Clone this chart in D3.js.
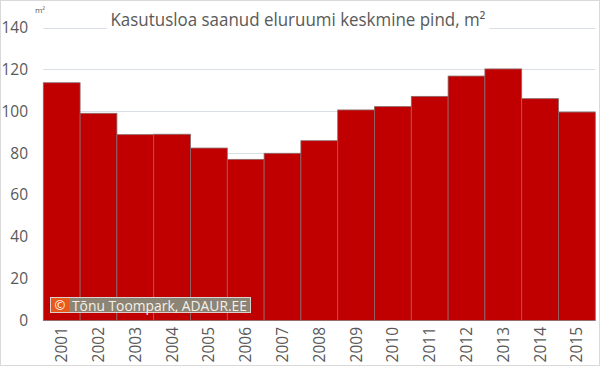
<!DOCTYPE html>
<html><head><meta charset="utf-8">
<script src="https://cdn.jsdelivr.net/npm/d3@7"></script>
<style>body{margin:0;background:#fff}svg{display:block}</style>
</head><body>
<script>
const years = ["2001","2002","2003","2004","2005","2006","2007","2008","2009","2010","2011","2012","2013","2014","2015"];
const values = [113.6,99.0,88.8,89.0,82.4,77.0,79.9,85.9,100.6,102.2,107.1,116.8,120.2,106.0,99.6];
const yTicks = [0,20,40,60,80,100,120,140];
const title = "Kasutusloa saanud eluruumi keskmine pind, m²";
const unitLabel = "m²";
const credit = "Tõnu Toompark, ADAUR.EE";

const W=600,H=366;
const svg=d3.select("body").append("svg").attr("width",W).attr("height",H);
svg.append("rect").attr("x",0.5).attr("y",0.5).attr("width",W-1).attr("height",H-1)
  .attr("fill","#fff").attr("stroke","#d9d9d9");

const x=d3.scaleBand().domain(years).range([43.3,595.3]).padding(0);
const y=d3.scaleLinear().domain([0,140]).range([320.5,27.5]);
const font="Open Sans, Noto Sans, sans-serif";
const grey="#595959";

// gridlines
svg.append("g").selectAll("line").data(yTicks.filter(d=>d>0)).join("line")
  .attr("x1",43.3).attr("x2",595.3)
  .attr("y1",d=>Math.round(y(d))+0.5).attr("y2",d=>Math.round(y(d))+0.5)
  .attr("stroke","#d9dde6").attr("stroke-width",1);

// title with white background
const tt=svg.append("text").attr("x",298).attr("y",26).attr("text-anchor","middle")
  .attr("font-family",font).attr("font-size",17.5).attr("fill",grey)
  .attr("textLength",375).attr("lengthAdjust","spacingAndGlyphs").text(title);
const bb=tt.node().getBBox();
svg.insert("rect","text").attr("x",bb.x-4).attr("y",bb.y).attr("width",bb.width+8).attr("height",bb.height).attr("fill","#fff");

// bars
svg.append("g").selectAll("rect").data(values).join("rect")
  .attr("x",(d,i)=>x(years[i])).attr("width",x.bandwidth())
  .attr("y",d=>y(d)).attr("height",d=>y(0)-y(d))
  .attr("fill","#c00000").attr("stroke","#8a6a6a").attr("stroke-width",0.8);

// y axis labels
const ya=svg.append("g").attr("transform","translate(28,0)")
  .call(d3.axisLeft(y).tickValues(yTicks).tickSize(0).tickPadding(0));
ya.select(".domain").remove();
ya.selectAll("text").attr("font-family",font).attr("font-size",15.5).attr("fill",grey);

svg.append("text").attr("x",40).attr("y",13).attr("text-anchor","middle")
  .attr("font-family",font).attr("font-size",8).attr("fill",grey).text(unitLabel);

// x axis labels
const xa=svg.append("g").attr("transform","translate(0,321)")
  .call(d3.axisBottom(x).tickSize(0).tickPadding(0));
xa.select(".domain").remove();
xa.selectAll("text").attr("font-family",font).attr("font-size",15.5).attr("fill",grey)
  .attr("transform","rotate(-90)").attr("text-anchor","end").attr("dy","0.35em")
  .attr("x",-6).attr("y",0);

// credit
const cg=svg.append("g");
cg.append("rect").attr("x",50.5).attr("y",297.5).attr("width",200).attr("height",15)
  .attr("fill","#8c8474").attr("stroke","#d8d4cc").attr("stroke-width",1);
cg.append("rect").attr("x",51).attr("y",298).attr("width",18).attr("height",14).attr("fill","#e8581a");
cg.append("text").attr("x",60).attr("y",310).attr("text-anchor","middle")
  .attr("font-family",font).attr("font-size",13).attr("fill","#fff").text("©");
cg.append("text").attr("x",72).attr("y",310.5)
  .attr("font-family",font).attr("font-size",14).attr("fill","#f4f1ea")
  .attr("textLength",175).attr("lengthAdjust","spacingAndGlyphs").text(credit);
</script>
</body></html>
